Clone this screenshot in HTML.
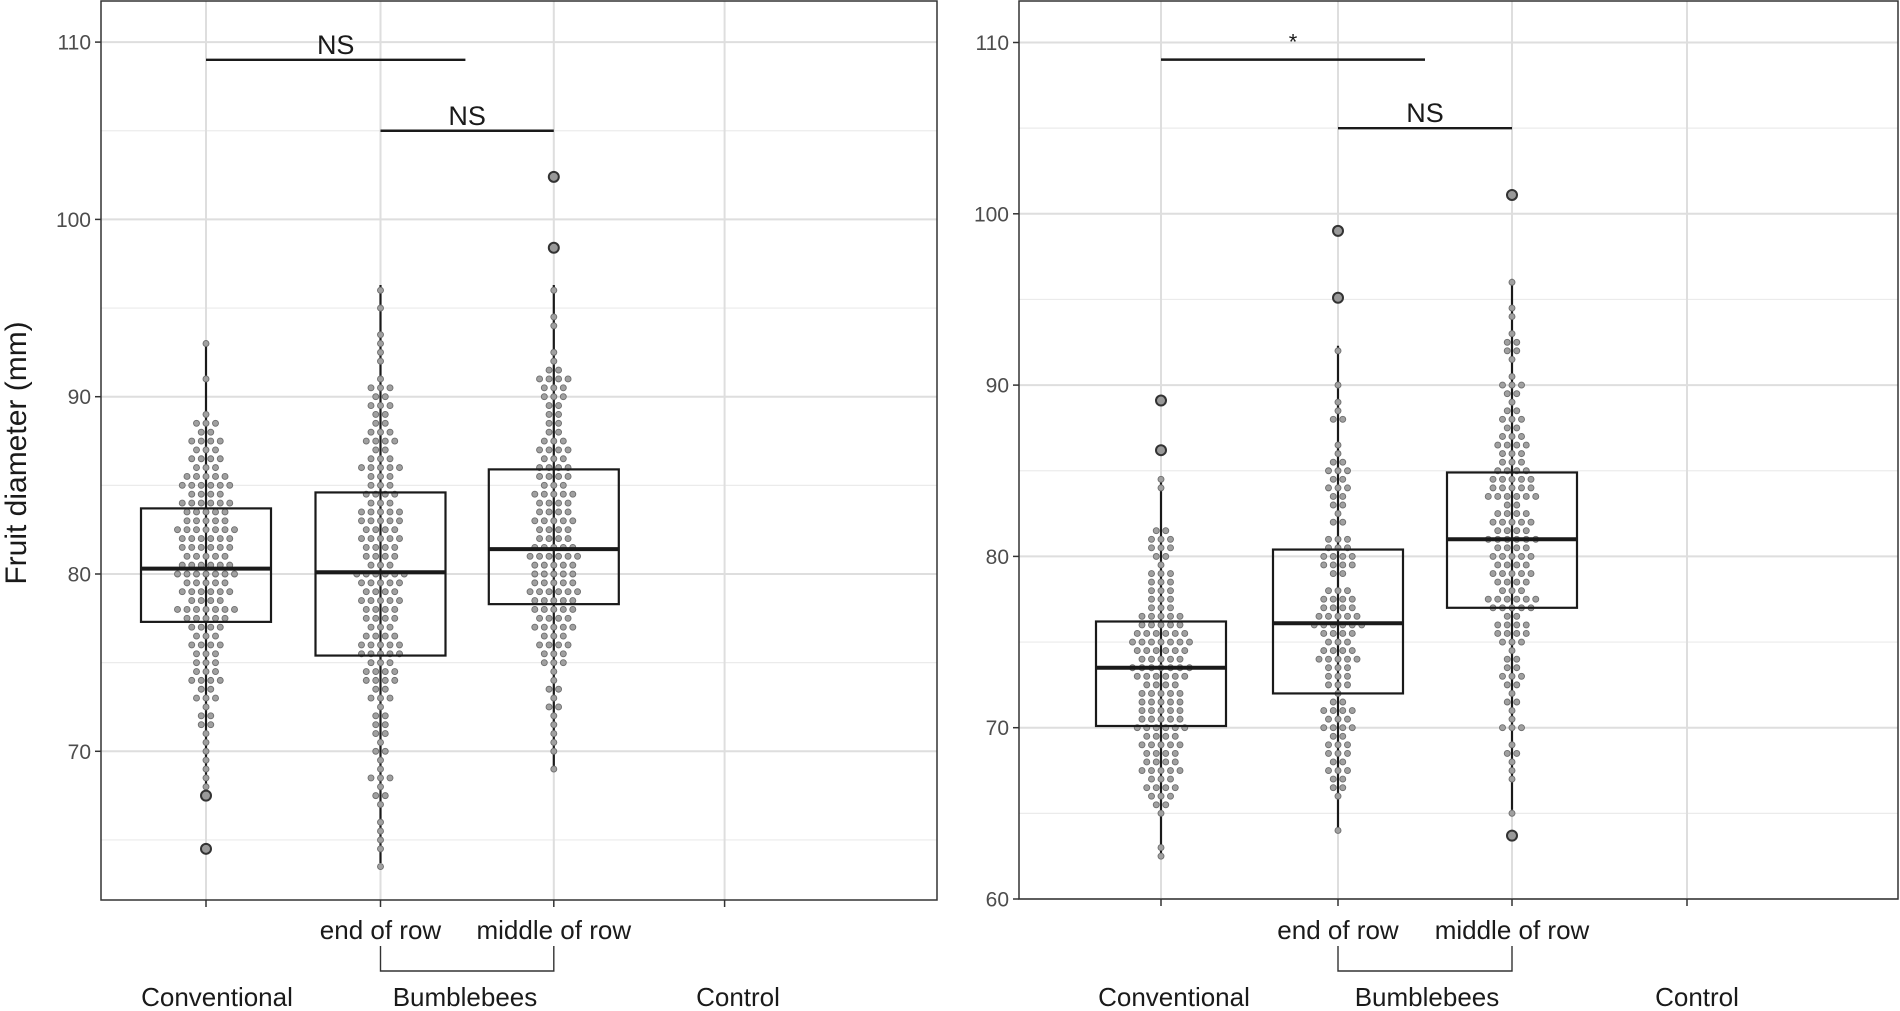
<!DOCTYPE html>
<html><head><meta charset="utf-8"><style>
html,body{margin:0;padding:0;background:#fff;}
svg{display:block;font-family:"Liberation Sans",Arial,sans-serif;}
</style></head><body>
<svg id="chart" width="1900" height="1011" viewBox="0 0 1900 1011" xmlns="http://www.w3.org/2000/svg"></svg>
<script>
// ---- data ----
const categories = ["Conventional", "end of row", "middle of row", "Control"];
const yTicksLeft = [70, 80, 90, 100, 110];
const yTicksRight = [60, 70, 80, 90, 100, 110];
// box stats: [whiskerLow, q1, median, q3, whiskerHigh]
const boxesLeft = [[67.5, 77.3, 80.3, 83.7, 93], [63.7, 75.4, 80.1, 84.6, 96.3], [69, 78.3, 81.4, 85.9, 96.3]];
const boxesRight = [[62.5, 70.1, 73.5, 76.2, 84.4], [63.9, 72, 76.1, 80.4, 92.3], [65.2, 77, 81, 84.9, 96.2]];
const outliersLeft = [[67.5, 64.5], [], [98.4, 102.4]];
const outliersRight = [[86.2, 89.1], [95.1, 99], [63.7, 101.1]];
// dot histograms: start value, bin step 0.5, counts
const dotStartLeft = [68, 63.5, 69];
const dotCountsLC = [1,1,1,1,1,1,1,2,2,1,3,2,4,3,3,3,4,3,4,5,7,4,6,5,7,6,5,6,6,7,5,5,6,4,6,5,3,4,3,4,2,3,1,0,0,0,1,0,0,0,1];
const dotCountsLE = [1,0,1,1,1,1,0,1,2,1,3,1,1,2,1,2,2,2,1,3,2,4,4,3,5,5,4,3,4,4,5,4,5,6,3,4,4,5,4,5,5,3,4,3,3,5,3,2,4,3,2,2,3,2,3,1,0,1,1,1,1,0,0,1,0,1];
const dotCountsLM = [1,0,1,1,1,1,1,2,1,2,1,1,3,3,4,3,5,4,5,5,6,5,5,5,6,5,4,4,5,4,4,5,3,4,4,3,4,3,2,2,2,2,3,3,4,2,1,1,0,0,1,1,0,0,1];
const dotStartRight = [62.5, 64, 65];
const dotCountsRC = [1,1,0,0,0,1,2,3,4,3,5,4,4,5,4,6,5,5,5,5,4,6,7,5,6,7,6,5,5,3,3,3,3,3,1,2,3,3,2,0,0,0,0,1,1];
const dotCountsRE = [1,0,0,0,1,2,2,3,2,3,3,2,4,3,4,2,1,3,3,3,5,4,3,4,6,5,4,4,3,0,2,4,4,3,3,0,2,1,2,2,3,2,3,2,1,1,0,0,2,1,1,0,1,0,0,0,1];
const dotCountsRM = [1,0,0,0,1,1,1,2,1,0,3,1,1,2,1,2,3,2,2,1,3,4,4,2,5,6,3,4,5,4,5,4,6,4,5,4,2,6,5,5,4,3,3,4,3,2,3,2,1,2,3,1,0,1,2,2,1,0,1,1,0,0,1];
const sigLabelsLeft = ["NS", "NS"];
const sigLabelsRight = ["*", "NS"];

// ---- layout ----
const svg = document.getElementById('chart');
const NS = 'http://www.w3.org/2000/svg';
function mk(tag, attrs, parent) {
  const e = document.createElementNS(NS, tag);
  for (const k in attrs) e.setAttribute(k, attrs[k]);
  (parent || svg).appendChild(e);
  return e;
}
const panels = [
  {id:'left', x0:101, x1:937, top:1, bottom:900, yv0:70, ypx0:751.3, k:17.73, ticks:yTicksLeft, minorFrom:65, minorTo:110,
   cx:[206,380.5,553.8,724.6], boxes:boxesLeft, outl:outliersLeft, starts:dotStartLeft, counts:[dotCountsLC,dotCountsLE,dotCountsLM],
   sig:sigLabelsLeft, sigBars:[[0,1.49,109],[1,2,105]], groupX:[217,465,738]},
  {id:'right', x0:1019, x1:1898, top:1, bottom:899, yv0:60, ypx0:899, k:17.13, ticks:yTicksRight, minorFrom:65, minorTo:110,
   cx:[1161,1338,1512,1687], boxes:boxesRight, outl:outliersRight, starts:dotStartRight, counts:[dotCountsRC,dotCountsRE,dotCountsRM],
   sig:sigLabelsRight, sigBars:[[0,1.5,109],[1,2,105]], groupX:[1174,1427,1697]}
];
panels.forEach(p => {
  const y = v => p.ypx0 - (v - p.yv0) * p.k;
  const xAt = t => { const i = Math.floor(t); const f = t - i; return i >= p.cx.length-1 ? p.cx[p.cx.length-1] : p.cx[i] + f*(p.cx[i+1]-p.cx[i]); };
  const g = mk('g', {});
  
  
  for (let v = p.minorFrom; v <= p.minorTo; v += 10) {
    const l = mk('line', {x1:p.x0, x2:p.x1, y1:y(v), y2:y(v), stroke:'#ebebeb', 'stroke-width':1.2}, g);
     
  }
  p.ticks.forEach(v => {
    const l = mk('line', {x1:p.x0, x2:p.x1, y1:y(v), y2:y(v), stroke:'#dedede', 'stroke-width':2}, g);
     
    const t = mk('line', {x1:p.x0-6, x2:p.x0, y1:y(v), y2:y(v), stroke:'#333', 'stroke-width':1.5}, g);
     
    const tx = mk('text', {x:p.x0-10, y:y(v)+7.5, 'text-anchor':'end', 'font-size':21, fill:'#4d4d4d'}, g);
    tx.textContent = v;
     
  });
  p.cx.forEach(cx => {
    const l = mk('line', {x1:cx, x2:cx, y1:p.top, y2:p.bottom, stroke:'#dedede', 'stroke-width':2}, g);
     
    const t = mk('line', {x1:cx, x2:cx, y1:p.bottom, y2:p.bottom+7, stroke:'#333', 'stroke-width':1.5}, g);
     
  });
  p.boxes.forEach((b, i) => {
    const cx = p.cx[i];
    const w = mk('line', {x1:cx, x2:cx, y1:y(b[0]), y2:y(b[4]), stroke:'#1a1a1a', 'stroke-width':2.2}, g);
     
  });
  p.counts.forEach((arr, i) => {
    const cx = p.cx[i];
    arr.forEach((n, j) => {
      const v = p.starts[i] + j * 0.5;
      for (let m = 0; m < n; m++) {
        const dx = (m - (n - 1) / 2) * 9.5;
        const c = mk('circle', {cx:cx+dx, cy:y(v), r:3, fill:'#a0a0a0', stroke:'#6e6e6e', 'stroke-width':0.9}, g);
         
      }
    });
  });
  p.boxes.forEach((b, i) => {
    const cx = p.cx[i], hw = 65;
    const r = mk('rect', {x:cx-hw, y:y(b[3]), width:hw*2, height:y(b[1])-y(b[3]), fill:'none', stroke:'#1a1a1a', 'stroke-width':2.2}, g);
     
    const md = mk('line', {x1:cx-hw, x2:cx+hw, y1:y(b[2]), y2:y(b[2]), stroke:'#1a1a1a', 'stroke-width':4}, g);
     
    p.outl[i].forEach(o => {
      const c = mk('circle', {cx:cx, cy:y(o), r:5, fill:'#999', stroke:'#333', 'stroke-width':2}, g);
       
    });
  });
  p.sigBars.forEach((s, i) => {
    const xa = xAt(s[0]), xb = xAt(s[1]);
    const l = mk('line', {x1:xa, x2:xb, y1:y(s[2]), y2:y(s[2]), stroke:'#1a1a1a', 'stroke-width':2.4}, g);
     
    const isStar = p.sig[i] === '*';
    const t = mk('text', {x:(xa+xb)/2, y:y(s[2]) - (isStar ? 10 : 6), 'text-anchor':'middle', 'font-size':isStar?22:27, fill:'#1a1a1a'}, g);
    t.textContent = p.sig[i];
     
  });
  const f = mk('rect', {x:p.x0, y:p.top, width:p.x1-p.x0, height:p.bottom-p.top, fill:'none', stroke:'#333', 'stroke-width':1.5}, g);
   
  [1, 2].forEach(i => {
    const t = mk('text', {x:p.cx[i], y:939, 'text-anchor':'middle', 'font-size':26, fill:'#1a1a1a'}, g);
    t.textContent = categories[i];
     
  });
  const br = mk('path', {d:`M${p.cx[1]} 946 V971 H${p.cx[2]} V946`, fill:'none', stroke:'#333', 'stroke-width':1.4}, g);
   
  ['Conventional', 'Bumblebees', 'Control'].forEach((lab, i) => {
    const t = mk('text', {x:p.groupX[i], y:1006, 'text-anchor':'middle', 'font-size':26, fill:'#1a1a1a'}, g);
    t.textContent = lab;
     
  });
});
const yt = mk('text', {x:0, y:0, transform:'translate(26,453) rotate(-90)', 'text-anchor':'middle', 'font-size':30, fill:'#1a1a1a'});
yt.textContent = 'Fruit diameter (mm)';


</script>
</body></html>
